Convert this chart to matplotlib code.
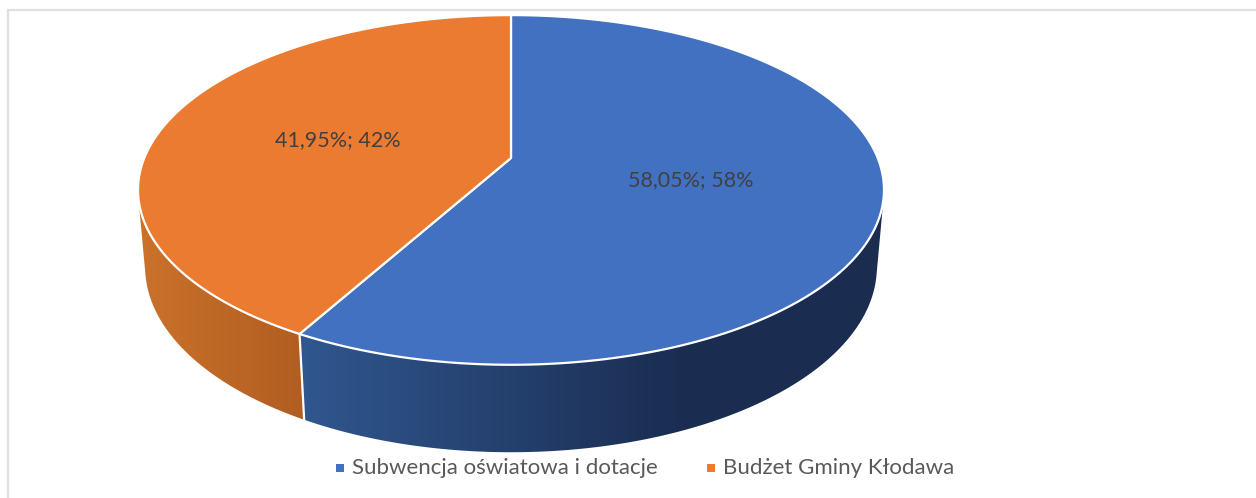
import numpy as np
import matplotlib
matplotlib.use("Agg")
import matplotlib.pyplot as plt
from matplotlib.colors import LinearSegmentedColormap
from matplotlib.patches import Polygon

# Donnees
categories = ["Subwencja oświatowa i dotacje", "Budżet Gminy Kłodawa"]
values = [58.05, 41.95]
labels = ["58,05%; 58%", "41,95%; 42%"]
top_colors = ["#4371C1", "#EB7B31"]
side_left = ["#30578F", "#CA722B"]
side_right = ["#1A2C50", "#B25E22"]
label_pos = [(691, 180), (338, 140)]

W, H = 1256, 498
X0, Y0 = 511, 158   # centre du camembert en projection
A, B, P = 366.7, 169.0, 0.1827
DROP, Q = 77.0, 0.0188


def project(theta, depth=0.0):
    # theta en radians, sens horaire depuis le haut ; depth = 1 pour la face du bas
    u, v = np.sin(theta), np.cos(theta)
    w = 1 + P * v + Q * depth
    return X0 + A * u / w, Y0 + (-B * v + DROP * depth) / w


def hull(points):
    # enveloppe convexe (le dessus recouvre ce qui depasse vers l'interieur)
    pts = sorted(set(map(tuple, points)))

    def half(seq):
        out = []
        for p in seq:
            while len(out) > 1 and ((out[-1][0] - out[-2][0]) * (p[1] - out[-2][1])
                                    - (out[-1][1] - out[-2][1]) * (p[0] - out[-2][0])) <= 0:
                out.pop()
            out.append(p)
        return out[:-1]

    return half(pts) + half(pts[::-1])


x_range = [(300, 690), (140, 300)]
bounds = 2 * np.pi * np.concatenate([[0], np.cumsum(values)]) / sum(values)

fig = plt.figure(figsize=(W / 100, H / 100), dpi=100, facecolor="w")
ax = fig.add_axes([0, 0, 1, 1])

# Cadre (haut et gauche seulement)
ax.plot([7.5, 7.5, W], [H, 10, 10], color="#E0E0E0", lw=1.6, solid_joinstyle="miter")

# Flancs : degrade horizontal decoupe par le contour du flanc
for i in range(len(values)):
    th = np.linspace(bounds[i], bounds[i + 1], 400)
    th = th[np.cos(th) < 0.25]
    xt, yt = project(th)
    xb, yb = project(th, 1)
    pts = np.column_stack([np.r_[xt, xb], np.r_[yt, yb]])
    clip = Polygon(hull(pts), closed=True, transform=ax.transData, facecolor="none", edgecolor="none")
    ax.add_patch(clip)
    cmap = LinearSegmentedColormap.from_list("side", [side_left[i], side_right[i]])
    grad = np.linspace(0, 1, 256).reshape(1, -1)
    x0, x1 = x_range[i]
    im = ax.imshow(grad, cmap=cmap, extent=(x0, x1, H, 0), aspect="auto", zorder=2)
    # au-dela du degrade : couleur extreme
    left = ax.imshow([[0]], cmap=cmap, vmin=0, vmax=1, extent=(0, x0, H, 0), aspect="auto", zorder=2)
    right = ax.imshow([[1]], cmap=cmap, vmin=0, vmax=1, extent=(x1, W, H, 0), aspect="auto", zorder=2)
    for img in (im, left, right):
        img.set_clip_path(clip)

# Separation blanche sur le flanc
bx0, by0 = project(bounds[1])
bx1, by1 = project(bounds[1], 1)
ax.plot([bx0, bx1], [by0, by1], color="w", lw=1.6, zorder=3)

# Dessus
for i in range(len(values)):
    th = np.linspace(bounds[i], bounds[i + 1], 400)
    xs, ys = project(th)
    pts = np.column_stack([np.r_[X0, xs], np.r_[Y0, ys]])
    ax.add_patch(Polygon(pts, closed=True, facecolor=top_colors[i], edgecolor="w",
                         lw=1.6, joinstyle="round", zorder=4))

# Etiquettes
for lab, (lx, ly) in zip(labels, label_pos):
    ax.text(lx, ly, lab, ha="center", va="center", fontsize=15.5, color="#404040",
            family="Lato", zorder=5)

# Legende
leg_marker_x = [340, 711]
leg_text_x = [352, 723]
for i, cat in enumerate(categories):
    ax.plot(leg_marker_x[i], 468, marker="s", ms=5.5, color=top_colors[i], mew=0, zorder=5)
    ax.text(leg_text_x[i], 468, cat, ha="left", va="center", fontsize=16, color="#595959",
            family="Lato", zorder=5)

ax.set_xlim(0, W)
ax.set_ylim(H, 0)
ax.axis("off")

fig.savefig("out.png", dpi=100)
